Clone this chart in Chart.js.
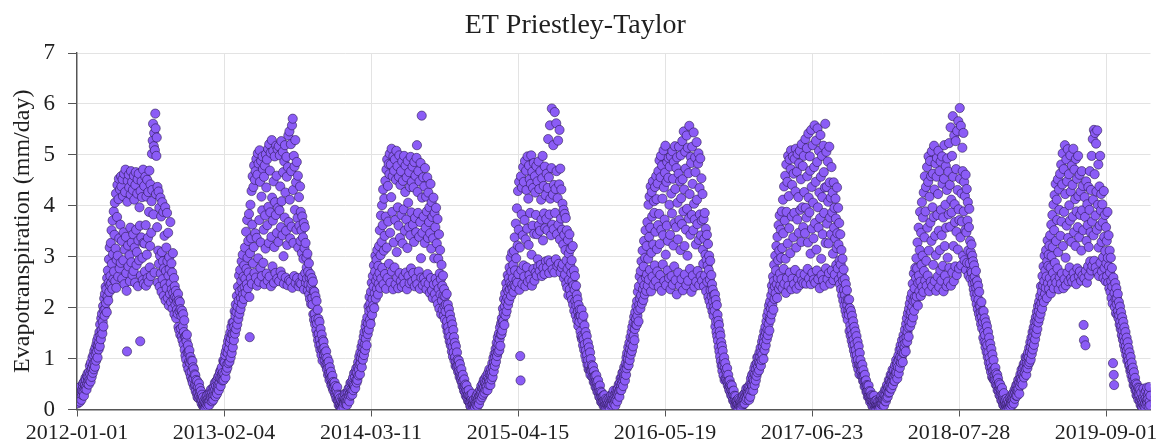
<!DOCTYPE html>
<html>
<head>
<meta charset="utf-8">
<script src="https://cdn.jsdelivr.net/npm/chart.js@4.4.1/dist/chart.umd.min.js"></script>
<style>
  html, body { margin: 0; padding: 0; background: #ffffff; }
  canvas { display: block; }
</style>
</head>
<body>
<canvas id="etChart" width="1157" height="447"></canvas>
<script>
// ---- Labels ----
const chartTitle = 'ET Priestley-Taylor';
const yAxisTitle = 'Evapotranspiration (mm/day)';
const startDate = '2012-01-01';
const endDate = '2019-12-31';
const xTickLabels = ['2012-01-01', '2013-02-04', '2014-03-11', '2015-04-15',
                     '2016-05-19', '2017-06-23', '2018-07-28', '2019-09-01'];
const yMin = 0, yMax = 7, yStep = 1;

// ---- Daily ET (mm/day), one array per calendar year, Jan 1 onward (one row per month) ----
const et2012 = [
  0.31,0.18,0.12,0.26,0.35,0.21,0.42,0.28,0.15,0.33, 0.45,0.24,0.19,0.38,0.29,0.36,0.47,0.52,0.34,0.27, 0.55,0.41,0.48,0.62,0.58,0.44,0.39,0.66,0.51,0.71, 0.57,
  0.63,0.49,0.74,0.58,0.86,0.69,0.55,0.92,0.77,0.64, 0.81,1.02,0.72,0.88,1.07,0.79,1.15,0.93,0.84,1.21, 1.09,0.96,1.28,1.14,1.36,1.02,1.25,1.43,1.18,
  1.31,1.52,1.24,1.67,1.45,1.38,1.79,1.56,1.88,1.49, 1.72,2.03,1.63,1.95,2.18,1.84,2.27,1.97,2.41,2.09, 2.36,1.91,2.58,2.22,2.73,2.14,2.49,2.95,2.31,3.18, 2.44,
  2.62,3.27,2.48,3.52,2.86,2.37,3.71,3.05,2.56,3.89, 2.71,3.43,4.06,2.52,3.16,4.24,2.39,2.94,3.78,4.41, 3.02,2.61,4.13,4.53,3.36,2.77,4.32,3.63,2.88,4.58,
  4.38,3.31,2.57,4.52,4.19,2.93,3.48,4.63,2.46,3.14, 4.27,4.71,3.39,2.68,2.33,1.14,4.08,4.49,3.22,2.81, 4.61,4.36,3.03,2.52,3.57,4.22,4.68,2.89,3.28,4.47, 2.64,
  4.31,3.44,2.72,4.59,4.12,3.18,2.49,4.41,4.66,3.53, 2.84,3.09,4.24,4.52,2.42,3.32,4.63,2.93,3.97,3.61, 1.34,4.29,2.63,3.38,4.48,4.17,2.98,2.54,4.71,3.27,
  2.47,4.39,3.26,2.71,4.57,3.62,2.43,4.18,3.04,4.51, 2.58,3.37,4.27,2.51,3.88,4.69,2.79,3.21,4.42,2.62, 3.47,4.09,5.02,4.31,5.28,5.61,3.83,5.17,5.43,2.69, 5.09,
  5.81,5.52,4.23,4.98,5.34,3.58,4.37,2.49,3.12,4.28, 2.86,3.96,2.41,3.02,4.16,2.67,3.79,2.31,3.09,4.07, 2.56,2.91,3.88,2.23,2.77,3.41,2.46,3.97,2.14,2.72, 3.18,
  2.38,3.86,2.91,2.19,3.47,2.63,2.04,2.99,2.76,2.27, 3.68,2.48,2.11,2.87,2.36,2.69,1.98,3.07,2.29,2.17, 2.58,1.87,2.42,2.21,2.06,2.33,1.79,2.18,1.96,2.12,
  1.88,2.27,1.62,2.14,1.56,1.93,2.11,1.47,1.97,1.59, 1.84,1.43,1.94,1.36,1.63,1.87,1.28,1.52,1.75,1.17, 1.43,1.06,1.44,0.98,1.34,1.47,0.87,1.12,1.26,0.79, 1.13,
  0.94,1.16,0.72,0.91,1.03,0.64,0.96,0.74,0.58,0.95, 0.52,0.83,0.61,0.79,0.44,0.69,0.48,0.67,0.36,0.58, 0.47,0.31,0.56,0.24,0.44,0.33,0.22,0.51,0.27,0.42,
  0.33,0.21,0.36,0.18,0.12,0.29,0.19,0.08,0.24,0.11, 0.05,0.17,0.09,0.03,0.14,0.22,0.06,0.11,0.19,0.28, 0.08,0.21,0.13,0.31,0.17,0.09,0.24,0.34,0.18,0.39, 0.27
];
const et2013 = [
  0.22,0.34,0.16,0.41,0.27,0.19,0.36,0.45,0.28,0.52, 0.39,0.26,0.47,0.56,0.35,0.31,0.58,0.43,0.64,0.49, 0.38,0.67,0.53,0.74,0.61,0.46,0.78,0.59,0.83,0.69, 0.57,
  0.72,0.96,0.58,0.94,0.69,0.92,1.07,0.63,1.14,0.76, 0.87,1.23,0.82,1.11,1.34,0.91,1.19,1.42,0.94,1.31, 1.51,1.02,1.39,1.62,1.11,1.48,1.71,1.22,
  1.47,1.71,1.36,1.62,1.93,1.49,1.84,2.06,1.58,1.91, 2.23,1.67,2.02,2.41,1.78,2.14,2.63,1.88,2.32,2.74, 1.97,2.19,2.52,2.91,2.08,2.37,3.04,2.26,2.61,2.17, 2.83,
  2.41,3.18,2.57,2.29,3.49,2.76,2.46,3.72,2.98,2.38, 3.31,2.69,3.84,2.21,1.42,3.07,4.02,2.58,3.36,4.29, 2.47,3.63,4.58,2.87,4.37,3.19,4.79,2.68,4.51,3.46,
  4.68,2.59,4.92,3.37,2.43,4.61,5.03,2.97,4.83,2.51, 3.72,5.09,4.47,2.78,3.28,4.88,4.18,2.62,3.91,4.97, 4.72,2.88,3.53,4.57,2.46,4.79,3.81,3.16,5.01,4.36, 2.67,
  4.91,3.62,2.53,5.12,3.98,3.27,5.21,2.61,4.69,3.87, 5.04,2.42,3.39,5.29,4.16,2.81,3.71,5.08,4.48,2.49, 3.19,4.97,4.07,2.68,3.82,5.18,4.59,3.47,2.57,5.11,
  3.96,3.29,5.17,2.52,3.91,4.99,4.38,2.71,3.58,5.27, 4.09,2.63,3.42,5.06,4.66,3.01,2.47,4.87,3.77,5.19, 4.26,2.59,3.51,4.96,4.57,3.23,2.44,4.76,5.38,3.68, 2.54,
  5.46,4.12,3.36,2.51,5.21,4.68,3.59,5.58,2.39,5.71, 4.31,3.27,4.98,2.62,4.77,3.92,5.29,2.48,4.46,3.53, 4.86,2.58,3.76,4.59,3.18,2.42,4.17,3.61,2.49,4.38, 3.31,
  3.88,2.47,3.52,3.07,3.79,2.61,3.38,2.96,3.66,2.36, 3.17,3.58,2.68,3.27,2.49,2.98,2.79,2.57,3.06,2.34, 2.71,2.46,2.87,2.26,2.59,2.17,2.66,2.38,2.07,2.47,
  2.58,2.19,2.06,2.51,1.87,2.33,1.76,2.31,1.88,1.67, 2.22,1.77,1.56,2.13,1.69,1.47,1.96,1.36,1.78,1.49, 1.26,1.72,1.38,1.17,1.58,1.28,1.07,1.47,1.19,0.96, 1.36,
  1.18,1.33,1.07,1.21,0.97,1.12,0.88,1.03,1.14,0.86, 0.79,1.01,0.91,0.68,0.82,0.94,0.71,0.58,0.83,0.69, 0.61,0.74,0.48,0.63,0.52,0.66,0.41,0.54,0.37,0.51,
  0.42,0.53,0.31,0.46,0.27,0.39,0.21,0.34,0.44,0.18, 0.29,0.16,0.09,0.27,0.19,0.07,0.22,0.11,0.04,0.17, 0.08,0.02,0.13,0.24,0.09,0.05,0.19,0.12,0.23,0.31, 0.16
];
const et2014 = [
  0.21,0.12,0.32,0.17,0.09,0.24,0.33,0.19,0.41,0.28, 0.16,0.43,0.31,0.52,0.27,0.39,0.54,0.36,0.29,0.51, 0.62,0.38,0.49,0.71,0.46,0.63,0.42,0.74,0.57,0.81, 0.53,
  0.72,0.58,0.84,0.93,0.67,0.79,1.04,0.88,0.69,1.12, 0.91,1.01,1.23,0.83,1.09,1.32,0.98,1.21,1.43,1.07, 1.52,1.28,1.17,1.63,1.39,1.72,1.26,1.54,
  1.81,1.48,1.69,2.02,1.57,1.93,2.21,1.76,2.08,1.68, 2.31,1.97,2.49,1.86,2.17,2.62,2.04,2.41,2.83,1.99, 2.28,2.71,3.02,2.18,2.53,2.94,2.37,3.13,2.61,2.26, 2.82,
  2.47,3.21,2.68,3.52,2.39,3.03,3.81,2.57,3.29,4.01, 2.78,3.62,4.32,2.46,3.12,4.14,3.41,2.66,4.49,3.79, 2.37,4.71,3.18,4.91,2.58,4.39,3.69,4.82,2.86,4.62,
  5.02,3.47,2.49,4.81,4.17,5.12,2.71,3.88,4.58,2.36, 4.97,3.28,4.69,2.79,4.91,3.72,2.46,4.51,5.08,3.09, 2.59,4.78,3.97,2.38,3.61,4.57,4.99,2.68,3.37,4.41, 2.52,
  4.68,3.82,2.41,4.87,3.26,4.49,2.61,3.93,4.98,2.47, 3.51,4.27,4.79,2.69,3.73,4.56,2.36,3.17,4.88,4.06, 2.62,3.58,4.66,2.48,4.37,3.42,4.96,2.77,3.87,4.47,
  2.51,4.77,3.63,2.68,4.36,3.29,4.86,2.42,3.76,4.59, 2.57,3.48,4.94,5.19,2.46,4.27,3.86,4.68,2.71,3.39, 4.48,2.37,3.68,4.84,2.97,2.59,5.77,4.16,3.47,2.44, 4.56,
  3.79,2.58,4.38,3.27,4.74,2.49,3.57,4.18,2.36,3.89, 4.56,2.66,3.37,4.26,2.47,3.68,3.97,2.29,3.46,4.43, 2.58,3.16,4.07,2.34,3.78,2.19,3.36,4.16,2.46,2.97, 3.86,
  2.27,3.58,2.57,3.96,2.16,3.26,2.48,3.74,2.07,2.96, 2.37,3.44,1.98,2.67,3.13,2.26,2.56,1.87,2.84,2.14, 2.43,1.96,2.63,2.24,1.84,2.36,2.03,1.77,2.22,1.93,
  2.06,1.64,2.27,1.73,1.54,2.06,1.62,1.44,1.97,1.53, 1.34,1.86,1.43,1.26,1.76,1.33,1.14,1.67,1.23,1.04, 1.56,1.12,1.42,0.96,1.31,1.03,0.86,1.24,0.94,0.83, 1.12,
  0.86,0.98,0.74,0.87,0.96,0.76,0.64,0.89,0.73,0.66, 0.57,0.79,0.64,0.53,0.46,0.68,0.56,0.44,0.37,0.59, 0.46,0.34,0.49,0.27,0.38,0.47,0.24,0.36,0.28,0.17,
  0.29,0.38,0.16,0.27,0.14,0.07,0.26,0.18,0.06,0.21, 0.31,0.09,0.17,0.04,0.11,0.19,0.02,0.08,0.05,0.16, 0.12,0.23,0.09,0.28,0.18,0.07,0.21,0.33,0.17,0.11, 0.26
];
const et2015 = [
  0.27,0.38,0.19,0.31,0.46,0.35,0.24,0.42,0.51,0.29, 0.41,0.58,0.44,0.33,0.53,0.61,0.39,0.49,0.66,0.45, 0.57,0.38,0.63,0.72,0.49,0.59,0.79,0.55,0.71,0.48, 0.67,
  0.78,0.59,0.72,0.91,0.64,0.83,1.01,0.75,0.92,1.09, 0.86,1.03,1.19,0.94,1.11,1.31,1.05,1.22,1.42,1.13, 1.28,1.49,1.16,1.38,1.61,1.25,1.47,1.69,
  1.48,1.79,1.55,1.71,1.98,1.74,1.89,2.17,1.66,2.03, 2.28,1.85,2.12,2.48,1.93,2.37,2.19,2.64,2.05,2.32, 2.58,2.14,2.79,2.36,2.49,2.98,2.23,2.71,2.44,3.08, 2.39,
  2.58,2.84,2.31,3.11,2.45,3.38,2.73,2.42,3.65,2.97, 2.54,3.95,2.49,3.22,4.29,2.66,3.53,4.47,2.35,3.18, 1.05,0.57,4.58,2.74,3.83,4.36,2.46,3.42,4.76,2.83,
  4.47,2.61,3.72,4.88,2.42,3.34,4.69,4.31,2.79,3.55, 4.97,2.51,4.14,3.23,4.79,2.64,4.52,3.86,2.55,4.43, 4.99,3.04,2.43,4.67,3.61,4.35,2.76,4.84,3.45,2.53, 4.58,
  4.26,2.69,3.82,4.78,2.63,3.44,4.48,2.95,2.81,4.87, 3.62,4.33,2.72,3.51,4.68,2.84,4.12,3.73,2.62,4.54, 4.98,3.32,2.78,4.39,3.85,2.66,4.77,3.56,4.21,2.91,
  3.74,4.63,2.79,3.52,4.35,5.31,2.93,4.56,2.68,3.83, 5.58,4.14,2.88,3.42,4.74,5.91,3.63,2.75,4.22,5.19, 3.54,4.41,2.69,5.84,3.86,4.33,2.95,5.62,4.68,3.44, 2.82,
  4.15,5.28,3.63,2.86,4.42,5.49,3.34,4.73,2.69,3.75, 4.32,2.79,3.53,4.04,2.85,3.24,3.92,2.58,3.43,3.84, 2.65,3.13,3.76,2.47,2.93,3.52,2.39,2.76,3.33,2.24, 3.06,
  2.55,3.44,2.36,2.83,3.15,2.24,2.68,2.93,2.15,2.52, 3.21,2.06,2.44,2.73,1.94,2.35,2.62,2.13,1.85,2.43, 2.04,2.25,1.75,2.16,1.93,1.64,2.05,1.83,1.72,1.96,
  1.85,1.53,1.84,1.44,1.96,1.38,1.75,1.42,1.26,1.84, 1.38,1.17,1.65,1.28,1.06,1.52,1.16,0.97,1.44,1.08, 0.88,1.31,0.97,0.79,1.22,0.87,0.76,1.12,0.68,0.99, 0.78,
  0.76,0.87,0.64,0.78,0.85,0.63,0.54,0.75,0.65,0.53, 0.66,0.44,0.55,0.67,0.43,0.54,0.35,0.46,0.57,0.34, 0.45,0.25,0.36,0.47,0.23,0.35,0.15,0.26,0.33,0.14,
  0.25,0.16,0.27,0.07,0.18,0.28,0.06,0.17,0.09,0.21, 0.04,0.11,0.19,0.08,0.02,0.12,0.21,0.05,0.09,0.18, 0.03,0.11,0.22,0.08,0.29,0.17,0.09,0.21,0.31,0.18, 0.37
];
const et2016 = [
  0.12,0.21,0.29,0.17,0.08,0.31,0.19,0.38,0.27,0.16, 0.32,0.41,0.28,0.49,0.36,0.25,0.52,0.39,0.61,0.47, 0.38,0.63,0.51,0.72,0.58,0.46,0.74,0.62,0.83,0.68, 0.57,
  0.79,0.91,0.68,1.02,0.81,1.11,0.88,0.99,1.22,0.87, 1.09,1.31,0.97,1.19,1.42,1.08,1.28,1.52,1.15,1.62, 1.38,1.24,1.71,1.45,1.82,1.36,1.58,1.91,1.67,
  1.78,2.02,1.66,2.13,1.84,2.31,1.95,1.73,2.42,2.06, 2.61,2.18,1.98,2.72,2.24,2.91,2.08,2.53,3.12,2.36, 2.15,2.81,3.31,2.44,2.26,2.98,3.52,2.59,2.33,3.21, 2.65,
  3.68,2.43,2.96,4.02,2.55,3.39,4.18,2.74,3.57,4.38, 2.32,3.08,4.27,3.79,2.61,4.48,3.24,2.45,4.09,3.86, 2.83,4.37,3.49,2.52,4.58,4.13,3.15,2.71,4.44,3.62,
  4.68,2.41,3.84,4.89,3.25,2.64,4.56,4.98,3.53,2.33, 4.79,4.14,2.85,3.42,5.09,4.36,2.52,3.73,4.65,5.18, 3.04,2.44,4.47,3.61,4.86,2.73,3.31,4.55,4.94,2.58, 4.02,
  4.77,3.43,2.36,4.97,4.24,2.62,3.85,5.07,2.45,4.53, 3.22,4.86,2.81,3.66,5.17,4.33,2.54,3.58,4.74,2.26, 4.95,4.06,3.34,2.69,4.63,5.16,3.72,2.43,4.48,3.13,
  4.99,4.15,2.56,3.64,5.27,4.52,2.34,3.89,5.46,4.32, 3.21,2.65,5.06,4.73,3.53,2.44,5.38,3.94,3.02,5.14, 2.53,4.64,3.75,5.57,4.23,2.76,3.43,4.96,4.84,2.31, 3.82,
  5.16,4.43,2.63,3.52,5.44,4.04,2.41,3.73,4.95,4.66, 3.24,2.51,5.25,4.12,3.64,2.72,4.83,5.03,3.33,2.44, 4.35,3.83,4.93,2.62,3.42,4.54,3.71,2.53,4.23,3.14, 2.86,
  3.74,2.42,3.35,3.86,2.63,3.04,3.55,2.32,2.94,3.43, 2.51,2.83,3.25,2.21,2.74,3.02,2.13,2.55,2.92,2.34, 2.03,2.64,2.22,2.46,1.93,2.35,2.12,1.84,2.25,2.01,
  1.94,2.26,1.63,2.15,1.73,1.52,2.05,1.44,1.86,1.35, 1.74,1.23,1.66,1.14,1.53,1.04,1.45,0.95,1.32,0.86, 1.24,0.76,1.15,0.86,0.67,0.95,1.02,0.58,0.82,0.91, 0.61,
  0.76,0.58,0.69,0.81,0.55,0.47,0.68,0.56,0.44,0.38, 0.57,0.46,0.35,0.49,0.28,0.39,0.47,0.26,0.36,0.18, 0.29,0.37,0.16,0.27,0.19,0.08,0.26,0.15,0.06,0.17,
  0.09,0.18,0.04,0.11,0.21,0.02,0.08,0.19,0.12,0.05, 0.16,0.07,0.01,0.13,0.22,0.09,0.27,0.18,0.11,0.21, 0.31,0.12,0.24,0.33,0.19,0.41,0.28,0.22,0.34,0.43, 0.32
];
const et2017 = [
  0.28,0.41,0.19,0.47,0.36,0.25,0.52,0.61,0.38,0.49, 0.68,0.46,0.59,0.37,0.72,0.56,0.81,0.48,0.69,0.88, 0.57,0.79,0.66,0.91,1.02,0.73,0.84,1.04,0.93,0.77, 1.12,
  0.91,1.03,1.21,0.86,1.12,0.97,1.33,1.08,1.24,1.42, 0.99,1.31,1.53,1.17,1.44,1.62,1.26,1.51,1.73,1.38, 1.84,1.57,1.46,1.93,1.68,2.04,1.55,1.79,
  2.12,1.76,1.98,2.24,1.87,2.43,2.06,2.33,2.61,1.96, 2.52,2.84,2.17,2.41,3.02,2.28,2.73,3.21,2.46,2.19, 3.39,2.58,2.93,3.62,2.37,3.12,3.81,2.67,2.44,3.53, 2.98,
  2.56,3.89,3.17,2.38,4.12,3.46,2.76,4.38,2.47,3.71, 4.59,2.96,2.29,4.81,3.88,2.58,4.47,3.26,4.98,2.43, 4.19,3.56,4.91,2.69,3.07,4.72,5.09,2.36,3.79,4.41,
  2.57,4.97,3.38,4.63,2.46,3.86,4.92,2.74,4.28,5.12, 3.18,2.37,4.67,3.73,5.02,2.56,4.17,3.47,4.83,2.44, 5.08,3.92,2.66,4.52,3.29,5.21,2.53,3.97,4.78,3.58, 2.48,
  4.98,4.27,2.65,3.46,5.31,3.96,2.47,3.77,5.13,4.58, 2.76,3.28,5.42,4.16,2.57,3.87,4.97,4.69,3.06,2.46, 5.49,4.37,3.55,2.68,5.19,4.06,3.36,2.55,4.76,5.58,
  3.66,2.49,4.47,5.28,3.14,2.73,4.86,5.52,3.97,2.56, 3.57,5.08,4.26,2.38,3.76,5.39,4.57,2.96,2.64,4.98, 4.17,3.44,2.54,5.18,4.66,3.86,2.43,4.36,5.61,3.27, 2.77,
  5.06,4.37,3.65,2.56,4.87,4.08,3.26,2.68,5.16,4.46, 3.77,2.47,4.16,3.44,4.76,2.73,3.87,4.26,3.06,2.54, 4.46,3.57,3.96,2.65,3.36,4.14,3.75,2.84,3.17,4.36, 3.46,
  2.77,3.96,3.24,2.55,3.66,2.93,2.46,3.44,2.85,2.36, 3.13,2.64,2.24,2.96,2.53,2.14,2.75,2.35,2.04,2.56, 2.25,1.94,2.46,2.14,1.85,2.34,2.05,1.76,2.15,1.95,
  1.86,2.16,1.54,1.99,1.65,1.45,1.93,1.57,1.35,1.84, 1.47,1.26,1.73,1.37,1.16,1.62,1.28,1.07,1.53,1.17, 0.96,1.44,1.07,0.87,1.33,0.98,0.79,1.24,0.88,0.69, 1.11,
  0.87,0.97,0.75,0.86,0.66,0.78,0.88,0.65,0.56,0.77, 0.66,0.55,0.45,0.68,0.56,0.46,0.57,0.35,0.48,0.36, 0.46,0.25,0.37,0.47,0.26,0.36,0.24,0.15,0.35,0.26,
  0.17,0.28,0.16,0.07,0.26,0.15,0.06,0.18,0.27,0.08, 0.16,0.05,0.17,0.03,0.09,0.18,0.07,0.01,0.08,0.16, 0.04,0.09,0.02,0.17,0.08,0.04,0.19,0.11,0.27,0.18, 0.09
];
const et2018 = [
  0.12,0.21,0.31,0.18,0.08,0.29,0.17,0.39,0.27,0.16, 0.38,0.23,0.48,0.36,0.25,0.44,0.33,0.58,0.46,0.34, 0.57,0.42,0.68,0.53,0.41,0.67,0.55,0.78,0.48,0.64, 0.57,
  0.77,0.63,0.56,0.87,0.69,0.74,0.97,0.72,0.88,0.61, 0.94,0.83,1.06,0.71,0.98,1.17,0.82,1.03,1.26,0.92, 1.18,1.01,1.36,1.12,0.93,1.27,1.46,1.11,
  1.38,1.22,1.57,1.31,1.14,1.68,1.42,1.79,1.33,1.52, 1.89,1.61,1.43,1.98,1.72,2.08,1.63,1.87,2.19,1.92, 1.71,2.28,2.02,2.47,1.81,2.13,2.67,1.94,2.38,2.21, 2.78,
  2.13,2.58,2.97,2.22,2.77,3.28,2.04,2.49,3.57,2.63, 2.32,3.13,3.88,2.51,2.23,3.47,2.84,4.07,2.41,3.02, 3.77,2.31,4.26,2.72,3.38,4.58,2.53,3.89,4.37,2.92,
  2.43,4.76,3.57,2.63,4.47,4.97,3.12,2.32,4.18,4.88, 3.67,2.51,4.58,3.31,5.07,2.42,3.97,4.63,2.84,3.78, 5.18,4.32,2.52,3.41,4.83,3.03,2.33,4.57,4.94,3.82, 2.61,
  4.23,5.08,3.51,2.41,4.68,3.13,2.73,4.87,3.92,2.53, 3.42,4.97,4.43,2.82,3.77,2.32,4.53,5.19,3.21,2.63, 4.02,4.78,3.57,2.42,4.31,4.93,2.98,2.51,4.67,3.83,
  5.23,2.78,4.41,3.59,5.54,2.43,4.12,3.87,4.98,2.69, 5.76,4.57,3.21,2.52,5.38,4.03,3.68,2.81,5.27,4.72, 3.49,2.64,5.47,4.31,3.14,5.66,3.93,2.77,3.72,5.92, 4.53,
  3.38,5.57,2.83,4.24,3.69,5.14,4.68,3.02,5.43,3.89, 4.47,2.93,4.19,3.52,4.61,2.74,3.48,4.33,2.88,3.71, 4.07,3.12,2.63,3.58,3.94,2.87,3.31,2.57,3.09,2.72, 3.24,
  2.69,3.02,2.47,2.91,2.58,2.36,2.83,2.27,2.61,2.49, 2.18,2.72,2.39,2.07,2.52,2.28,1.97,2.43,2.16,1.88, 2.31,2.05,1.79,2.02,1.91,1.68,2.11,1.82,1.59,1.93,
  1.72,1.41,1.93,1.52,1.33,1.79,1.46,1.22,1.71,1.31, 1.13,1.63,1.26,1.03,1.52,1.12,0.92,1.41,1.02,0.83, 1.29,0.92,0.74,1.19,0.82,0.64,1.08,0.76,0.61,0.97, 0.58,
  0.78,0.67,0.58,0.82,0.49,0.71,0.59,0.47,0.68,0.38, 0.61,0.48,0.37,0.52,0.28,0.41,0.49,0.27,0.39,0.18, 0.31,0.42,0.17,0.29,0.09,0.21,0.32,0.08,0.19,0.11,
  0.17,0.02,0.09,0.21,0.05,0.12,0.01,0.18,0.08,0.04, 0.13,0.03,0.22,0.09,0.06,0.19,0.11,0.28,0.17,0.09, 0.23,0.32,0.18,0.12,0.29,0.38,0.21,0.33,0.42,0.27, 0.48
];
const et2019 = [
  0.38,0.27,0.49,0.36,0.58,0.41,0.52,0.31,0.61,0.47, 0.69,0.53,0.62,0.78,0.57,0.71,0.49,0.82,0.67,0.89, 0.63,0.84,0.72,0.93,1.03,0.79,0.68,1.01,0.91,0.81, 1.04,
  1.12,0.89,1.02,1.21,0.93,1.13,1.32,0.98,1.22,1.41, 1.09,1.31,1.52,1.18,1.43,1.61,1.27,1.53,1.72,1.38, 1.62,1.81,1.49,1.73,1.92,1.58,1.83,2.03,
  1.71,1.93,2.12,1.79,2.04,2.23,1.88,2.42,2.09,2.31, 1.98,2.62,2.18,2.43,2.81,2.11,2.52,3.02,2.27,2.73, 2.39,3.13,2.61,2.19,2.91,3.32,2.48,2.82,3.04,2.37, 3.22,
  2.58,3.42,2.79,2.28,3.63,3.01,2.47,3.82,3.19,2.68, 4.02,2.38,3.52,4.21,2.88,2.57,4.43,3.31,2.49,4.12, 3.72,2.77,4.52,3.09,2.36,4.32,3.92,2.59,4.63,3.41,
  2.47,4.81,3.69,2.67,4.42,5.03,3.21,2.38,4.72,3.88, 2.56,5.19,4.23,2.98,2.44,4.91,3.61,4.48,2.69,5.11, 3.37,2.52,4.62,4.01,2.79,3.71,4.99,4.28,2.58,3.29, 4.79,
  2.51,4.41,3.79,5.12,2.68,3.48,4.71,2.57,4.13,3.21, 4.92,2.46,3.89,4.53,2.77,3.58,4.98,4.19,2.62,3.38, 4.61,2.71,3.82,4.28,2.53,3.12,4.68,3.91,2.63,4.39,
  3.52,1.66,1.36,2.58,4.17,3.78,1.26,2.72,4.48,3.31, 2.49,4.03,3.62,2.81,4.37,3.19,2.63,3.92,4.68,2.91, 3.48,4.31,2.73,4.98,3.69,2.82,5.31,4.12,3.42,5.49, 2.92,
  4.62,5.43,3.81,2.79,5.22,4.28,3.53,5.48,2.69,4.02, 4.81,3.18,2.62,4.38,3.61,4.98,2.88,3.91,4.23,3.29, 2.71,4.03,3.68,2.99,2.58,4.29,3.39,2.78,3.82,3.11, 2.52,
  3.58,2.87,3.31,2.62,3.88,2.98,2.49,3.42,2.81,2.38, 3.12,2.69,2.31,2.98,2.52,2.19,2.78,2.41,2.08,0.91, 2.59,0.68,0.48,2.29,2.01,2.48,2.17,1.89,2.38,2.07,
  2.18,1.86,2.27,1.94,1.79,2.11,1.85,1.67,2.02,1.73, 1.58,1.91,1.64,1.46,1.81,1.55,1.37,1.72,1.43,1.26, 1.61,1.34,1.17,1.52,1.24,1.07,1.41,1.16,0.96,1.32, 1.05,
  1.21,0.97,0.86,1.12,0.88,0.76,1.03,0.79,0.67,0.92, 0.78,0.59,0.82,0.66,0.48,0.73,0.57,0.46,0.62,0.38, 0.51,0.41,0.28,0.49,0.37,0.26,0.43,0.19,0.31,0.42,
  0.28,0.17,0.39,0.09,0.21,0.33,0.07,0.18,0.04,0.12, 0.23,0.41,0.08,0.19,0.32,0.11,0.03,0.22,0.36,0.09, 0.18,0.43,0.13,0.29,0.21,0.06,0.34,0.44,0.16,0.08, 0.27
];

const yearlySeries = [
  [2012, et2012], [2013, et2013], [2014, et2014], [2015, et2015],
  [2016, et2016], [2017, et2017], [2018, et2018], [2019, et2019]
];

// ---- Build day-indexed points (x = days since startDate) ----
const MS_PER_DAY = 86400000;
const t0 = Date.parse(startDate);
const dayIndex = iso => Math.round((Date.parse(iso) - t0) / MS_PER_DAY);

const points = [];
for (const [year, values] of yearlySeries) {
  const base = dayIndex(year + '-01-01');
  values.forEach((v, i) => points.push({ x: base + i, y: v }));
}
const tickDays = xTickLabels.map(dayIndex);

const SERIF = "'Liberation Serif', 'Times New Roman', Times, serif";
const TEXT = '#1f1f1f';
const GRID = '#e3e3e3';
const AXIS = '#555555';

new Chart(document.getElementById('etChart'), {
  type: 'scatter',
  data: {
    datasets: [{
      label: 'ET',
      data: points,
      pointRadius: 4.6,
      pointHoverRadius: 4.6,
      pointBackgroundColor: '#8b5cf6',
      pointBorderColor: 'rgba(35, 18, 70, 0.85)',
      pointBorderWidth: 0.65
    }]
  },
  options: {
    responsive: false,
    devicePixelRatio: 1,
    animation: false,
    layout: { padding: { left: 0, right: 6.5, top: 0, bottom: 0 } },
    plugins: {
      legend: { display: false },
      tooltip: { enabled: false },
      title: {
        display: true,
        text: chartTitle,
        color: TEXT,
        font: { family: SERIF, size: 28, weight: 'normal' },
        padding: { top: 9, bottom: 10.4 }
      }
    },
    scales: {
      x: {
        type: 'linear',
        min: 0,
        max: dayIndex(endDate),
        afterBuildTicks: scale => { scale.ticks = tickDays.map(v => ({ value: v })); },
        afterFit: scale => { scale.height = 37.5; scale.paddingLeft = 0; scale.paddingRight = 0; },
        ticks: {
          autoSkip: false,
          maxRotation: 0,
          minRotation: 0,
          padding: 4,
          color: TEXT,
          font: { family: SERIF, size: 22 },
          callback: value => {
            const k = tickDays.indexOf(value);
            return k >= 0 ? xTickLabels[k] : '';
          }
        },
        grid: { color: GRID, lineWidth: 1, tickColor: AXIS, tickLength: 7, drawTicks: true },
        border: { display: true, color: AXIS, width: 1.4 }
      },
      y: {
        type: 'linear',
        min: yMin,
        max: yMax,
        afterFit: scale => { scale.width = 77; },
        ticks: {
          stepSize: yStep,
          padding: 13,
          color: TEXT,
          font: { family: SERIF, size: 23 }
        },
        grid: { color: GRID, lineWidth: 1, tickColor: AXIS, tickLength: 9, drawTicks: true },
        border: { display: true, color: AXIS, width: 1.4 },
        title: {
          display: true,
          text: yAxisTitle,
          color: TEXT,
          font: { family: SERIF, size: 24 },
          padding: { top: 8, bottom: 0 }
        }
      }
    }
  }
});
</script>
</body>
</html>
